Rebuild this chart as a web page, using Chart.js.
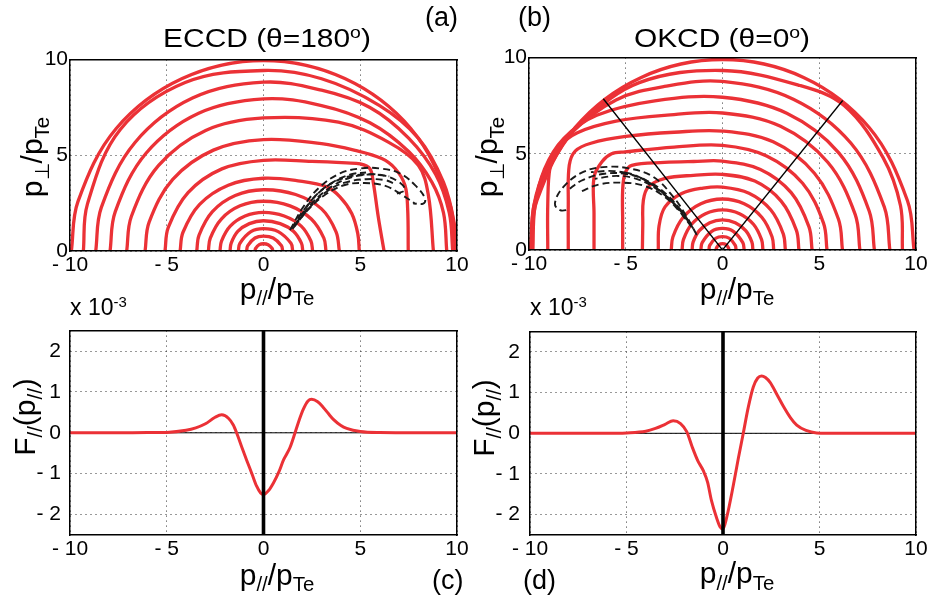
<!DOCTYPE html>
<html>
<head>
<meta charset="utf-8">
<script src="https://cdn.jsdelivr.net/npm/chart.js@4.4.1/dist/chart.umd.min.js"></script>
<style>
    html, body { margin: 0; padding: 0; background: #fff; }
    #page { position: relative; width: 937px; height: 604px; overflow: hidden; background: #fff; }
    canvas { position: absolute; }
    .t { position: absolute; font-family: 'Liberation Sans', Arial, sans-serif; color: #000; white-space: nowrap; line-height: 1; }
    .sub { font-size: 0.68em; position: relative; top: 0.32em; }
    .sup { font-size: 0.65em; position: relative; top: -0.5em; }
    .xl { font-size: 30px; transform: translate(-50%, -50%); }
    .yl { font-size: 30px; transform: translate(-50%, -50%) rotate(-90deg); }
    .ttl { font-size: 26px; top: 24.7px; transform: translateX(-50%) scaleX(1.15); }
    .tag { font-size: 27px; }
</style>
</head>
<body>
<div id="page">
    <canvas id="chartA" width="455" height="238" style="left:20px;top:45px"></canvas>
    <canvas id="chartB" width="455" height="239" style="left:479px;top:43px"></canvas>
    <canvas id="chartC" width="455" height="258" style="left:20px;top:309px"></canvas>
    <canvas id="chartD" width="454" height="258" style="left:480px;top:309px"></canvas>

    <div class="t ttl" style="left:267px">ECCD (θ=180<span class="sup">o</span>)</div>
    <div class="t ttl" style="left:722px">OKCD (θ=0<span class="sup">o</span>)</div>
    <div class="t tag" style="left:425px;top:4px">(a)</div>
    <div class="t tag" style="left:518px;top:4px">(b)</div>
    <div class="t tag" style="left:432px;top:567px">(c)</div>
    <div class="t tag" style="left:523px;top:567px">(d)</div>

    <div class="t yl" style="left:31.5px;top:156.5px">p<span class="sub">⊥</span>/p<span class="sub">Te</span></div>
    <div class="t yl" style="left:486.5px;top:157px">p<span class="sub">⊥</span>/p<span class="sub">Te</span></div>
    <div class="t yl" style="left:24.5px;top:417px">F<span class="sub">//</span>(p<span class="sub">//</span>)</div>
    <div class="t yl" style="left:484px;top:418px">F<span class="sub">//</span>(p<span class="sub">//</span>)</div>

    <div class="t xl" style="left:277px;top:288.5px">p<span class="sub">//</span>/p<span class="sub">Te</span></div>
    <div class="t xl" style="left:737px;top:288.5px">p<span class="sub">//</span>/p<span class="sub">Te</span></div>
    <div class="t xl" style="left:277px;top:574.8px">p<span class="sub">//</span>/p<span class="sub">Te</span></div>
    <div class="t xl" style="left:737px;top:573.2px">p<span class="sub">//</span>/p<span class="sub">Te</span></div>

    <div class="t" style="left:70px;top:295.5px;font-size:23px">x 10<span class="sup">-3</span></div>
    <div class="t" style="left:530px;top:295.5px;font-size:23px">x 10<span class="sup">-3</span></div>
</div>

<script>
// tick labels
const xTicks = [-10, -5, 0, 5, 10];
const yTicksTop = [0, 5, 10];
const yTicksBottom = [-2, -1, 0, 1, 2];

// (a) ECCD contours, [p//, pperp]
const contoursA = [
    [[-0.44,0],[-0.41,0.13],[-0.22,0.33],[0,0.38],[0.24,0.33],[0.45,0.13],[0.48,0]],
    [[-0.87,0],[-0.82,0.27],[-0.44,0.68],[0,0.78],[0.5,0.68],[0.93,0.27],[0.99,0]],
    [[-1.3,0],[-1.22,0.4],[-0.65,1.01],[0,1.17],[0.76,1.01],[1.42,0.4],[1.51,0]],
    [[-1.73,0],[-1.67,0.41],[-1.33,1.02],[-0.73,1.43],[0,1.58],[0.86,1.43],[1.56,1.02],[1.96,0.41],[2.03,0]],
    [[-2.25,0],[-2.17,0.52],[-1.72,1.3],[-0.95,1.83],[0,2.02],[1.07,1.83],[1.95,1.3],[2.45,0.52],[2.54,0]],
    [[-2.85,0],[-2.75,0.67],[-2.18,1.67],[-1.21,2.36],[0,2.6],[1.37,2.36],[2.47,1.67],[3.12,0.67],[3.23,0]],
    [[-3.45,0],[-3.33,0.83],[-2.64,2.06],[-1.46,2.9],[0,3.2],[1.66,2.95],[3.0,2.2],[3.75,1.0],[3.92,0]],
    [[-4.31,0],[-4.16,0.98],[-3.3,2.44],[-1.82,3.44],[0,3.8],[1.89,3.65],[3.27,3.35],[3.95,2.83],[4.56,1.96],[4.87,0.92],[4.95,0]],
    [[-5.09,0],[-4.92,1.23],[-3.9,3.05],[-2.15,4.29],[0,4.74],[2.5,4.68],[4.3,4.6],[5.0,4.55],[5.5,4.3],[5.67,3.6],[5.93,1.79],[6.23,0]],
    [[-6.12,0],[-5.91,1.51],[-4.69,3.74],[-2.59,5.27],[0,5.82],[3.0,5.61],[4.73,5.26],[6.11,4.83],[6.8,4.31],[7.31,3.44],[7.45,2.2],[7.48,0]],
    [[-7.07,0],[-6.83,1.8],[-5.42,4.47],[-2.99,6.3],[0,6.95],[3.87,6.73],[6.45,5.69],[8.0,4.48],[8.52,2.92],[8.78,0]],
    [[-7.93,0],[-7.66,2.06],[-6.07,5.11],[-3.35,7.2],[0,7.95],[3,7.6],[5.5,6.7],[7.5,5.2],[8.7,3.6],[9.3,2],[9.47,0]],
    [[-8.67,0],[-8.38,2.28],[-6.64,5.67],[-3.67,7.99],[0,8.82],[3,8.4],[5.5,7.5],[7.5,5.9],[8.9,4],[9.6,2],[9.78,0]],
    [[-9.31,0],[-9.1,2.45],[-7.4,6.35],[-4.05,8.8],[0,9.43],[3,9.0],[6,7.6],[8,5.9],[9.3,3.6],[9.85,1.5],[9.95,0]],
    [[-9.93,0],[-9.59,2.58],[-7.61,6.4],[-4.2,9.01],[0,9.95],[4.2,9.01],[7.61,6.4],[9.59,2.58],[9.93,0]]
];

const dashesA = [
    [[1.37,1.09],[2.06,2.31],[2.92,3.35],[3.95,4.05],[4.99,4.31],[6.02,4.31],[7.05,4.05],[7.92,3.35],[8.35,2.74],[8.26,2.48],[7.74,2.48]],
    [[1.45,1.2],[2.2,2.3],[3.1,3.25],[4.1,3.8],[5.2,4.0],[6.2,3.95],[7.0,3.6],[7.3,3.2],[6.9,3.0]],
    [[1.5,1.15],[2.3,2.15],[3.2,2.95],[4.2,3.45],[5.2,3.55],[6.3,3.4],[7.2,2.9],[7.8,2.5]],
    [[1.6,1.3],[2.5,2.4],[3.4,3.2],[4.3,3.6],[5.3,3.75],[6.3,3.7],[6.8,3.5]],
    [[1.7,1.5],[2.6,2.6],[3.5,3.35],[4.4,3.8],[5.5,4.0],[6.5,3.9]],
    [[1.9,1.8],[2.7,2.9],[3.6,3.6],[4.5,4.0],[5.3,4.1]]
];

// (b) OKCD contours
const contoursB = [
    [[-0.33,0],[-0.31,0.11],[-0.165,0.29],[0,0.33],[0.165,0.29],[0.31,0.11],[0.33,0]],
    [[-0.7,0],[-0.66,0.24],[-0.35,0.61],[0,0.7],[0.35,0.61],[0.66,0.24],[0.7,0]],
    [[-1.12,0],[-1.05,0.38],[-0.56,0.97],[0,1.12],[0.56,0.97],[1.05,0.38],[1.12,0]],
    [[-1.57,0],[-1.52,0.41],[-1.2,1.01],[-0.66,1.42],[0,1.57],[0.66,1.42],[1.2,1.01],[1.52,0.41],[1.57,0]],
    [[-2.09,0],[-2.02,0.54],[-1.6,1.34],[-0.88,1.89],[0,2.09],[0.88,1.89],[1.6,1.34],[2.02,0.54],[2.09,0]],
    [[-2.65,0],[-2.56,0.69],[-2.03,1.7],[-1.12,2.4],[0,2.65],[1.12,2.4],[2.03,1.7],[2.56,0.69],[2.65,0]],
    [[-3.32,0],[-3.28,1.25],[-2.97,2.24],[-2.11,2.94],[-1.0,3.22],[0,3.27],[1.37,2.95],[2.49,2.09],[3.14,0.84],[3.25,0]],
    [[-4.14,0],[-4.12,1.3],[-4.09,2.59],[-3.83,3.28],[-2.97,3.72],[-1.5,3.88],[0,3.93],[1.67,3.58],[3.03,2.54],[3.82,1.02],[3.95,0]],
    [[-5.16,0],[-5.16,1.5],[-5.16,3.1],[-5.04,3.97],[-4.69,4.4],[-3.0,4.55],[-1.5,4.6],[0,4.62],[1.96,4.19],[3.55,2.98],[4.47,1.2],[4.63,0]],
    [[-6.64,0],[-6.64,1.9],[-6.64,3.8],[-6.24,4.58],[-5.73,5.0],[-5.04,5.1],[-2.5,5.35],[0,5.44],[2.28,4.89],[4.14,3.47],[5.22,1.4],[5.4,0]],
    [[-7.97,0],[-7.97,2.4],[-7.92,4.4],[-7.6,5.15],[-6.8,5.55],[-5.0,5.9],[-2.5,6.12],[0,6.18],[2.62,5.62],[4.75,3.99],[5.99,1.61],[6.2,0]],
    [[-9.03,0],[-9.03,2.4],[-8.91,4.3],[-8.5,5.3],[-7.5,6.1],[-5.5,6.7],[-3,7.0],[0,7.12],[3.0,6.43],[5.44,4.56],[6.86,1.84],[7.1,0]],
    [[-9.8,0],[-9.7,2.2],[-9.2,4.2],[-8.2,5.8],[-6.5,7.0],[-3.5,7.75],[0,7.94],[3.32,7.11],[6.01,5.05],[7.58,2.03],[7.85,0]],
    [[-9.88,0],[-9.75,2.3],[-9.1,4.3],[-7.8,6.1],[-5.5,7.8],[-3,8.5],[0,8.76],[3.66,7.84],[6.63,5.56],[8.36,2.24],[8.65,0]],
    [[-9.92,0],[-9.7,2.5],[-8.6,4.9],[-7.3,6.6],[-4.3,8.7],[0,9.33],[4.0,8.55],[6.3,7.5],[8.3,4.8],[9.2,2.3],[9.3,0]],
    [[-9.93,0],[-9.59,2.57],[-7.61,6.37],[-4.2,8.97],[0,9.9],[4.19,8.97],[7.58,6.37],[9.56,2.56],[9.9,0]]
];

const dashesB = [
    [[-1.33,0.78],[-1.85,1.73],[-2.54,2.76],[-3.58,3.8],[-4.78,4.23],[-5.98,4.32],[-7.19,4.06],[-8.22,3.28],[-8.66,2.42],[-8.4,2.07],[-7.9,2.1]],
    [[-1.5,1.1],[-2.1,2.0],[-2.9,2.9],[-3.9,3.6],[-5.0,3.95],[-6.2,3.95],[-7.3,3.6],[-8.0,3.1]],
    [[-1.6,1.2],[-2.3,2.1],[-3.1,2.85],[-4.1,3.35],[-5.2,3.5],[-6.4,3.4],[-7.4,3.0]],
    [[-1.7,1.4],[-2.4,2.3],[-3.3,3.1],[-4.3,3.65],[-5.4,3.85],[-6.6,3.7]],
    [[-1.9,1.6],[-2.6,2.5],[-3.5,3.3],[-4.5,3.85],[-5.6,4.1],[-6.8,4.05]],
    [[-2.0,1.9],[-2.8,2.7],[-3.8,3.5],[-4.7,3.95],[-5.3,4.05]]
];

const raysB = [
    [[0,0],[-6.16,7.86]],
    [[0,0],[6.21,7.77]]
];

// (c) and (d) F// in units of 1e-3
const pParC = [-10,-8,-6,-5,-4,-3.5,-3,-2.5,-2.16,-1.8,-1.56,-1.39,-1.1,-0.87,-0.6,-0.36,-0.15,0,0.25,0.52,0.8,1.03,1.2,1.37,1.63,1.85,2.06,2.3,2.49,2.8,3.09,3.35,3.61,4.0,4.3,5.0,6.0,8,10];
const fParC = [0,0,0.005,0.01,0.06,0.12,0.22,0.38,0.44,0.35,0.19,0,-0.38,-0.67,-1.0,-1.3,-1.47,-1.51,-1.42,-1.22,-0.95,-0.67,-0.52,-0.36,0,0.32,0.58,0.78,0.82,0.76,0.62,0.47,0.33,0.18,0.11,0.03,0.005,0,0];
const pParD = [-10,-8,-6,-5,-4,-3.5,-3,-2.58,-2.2,-1.88,-1.6,-1.31,-1.02,-0.8,-0.6,-0.33,-0.15,0,0.2,0.53,0.8,1.05,1.3,1.57,1.8,2.0,2.2,2.44,2.8,3.12,3.5,3.82,4.3,4.85,6,8,10];
const fParD = [0,0,0,0.01,0.05,0.12,0.22,0.31,0.24,0.04,-0.33,-0.67,-0.92,-1.2,-1.65,-2.08,-2.3,-2.35,-2.05,-1.29,-0.6,0,0.62,1.14,1.36,1.41,1.37,1.25,0.95,0.67,0.38,0.2,0.07,0.01,0,0,0];

const zeroLine = [[-10,0],[10,0]];
const centreLine = [[0,-2.5],[0,2.5]];

document.addEventListener('DOMContentLoaded', function() {
    const RED = '#eb3136';
    const FONT = "'Liberation Sans', Arial, sans-serif";
    const fmt = v => v < 0 ? '- ' + (-v) : String(v);
    const pts = a => a.map(p => ({ x: p[0], y: p[1] }));
    const zip = (xs, ys) => xs.map((x, i) => ({ x: x, y: ys[i] }));

    const contour = c => ({ data: pts(c), showLine: true, borderColor: RED, borderWidth: 3.3, tension: 0.36, pointRadius: 0, order: 3 });
    const dashed = c => ({ data: pts(c), showLine: true, borderColor: '#1a1a1a', borderWidth: 1.9, borderDash: [7, 4], tension: 0.4, pointRadius: 0, order: 2 });
    const straight = (c, w, order) => ({ data: pts(c), showLine: true, borderColor: '#000', borderWidth: w, tension: 0, pointRadius: 0, order: order });

    // frame on the top and right sides
    function frame(pos) {
        return {
            type: 'linear', position: pos, min: 0, max: 1,
            grid: { display: false, drawTicks: false },
            ticks: { display: false },
            border: { display: true, color: '#000', width: 1.5, z: 1 }
        };
    }

    function panel(id, datasets, yTicks, ymin, ymax, ypad) {
        new Chart(document.getElementById(id), {
            type: 'scatter',
            data: { datasets: datasets },
            options: {
                responsive: false,
                animation: false,
                events: [],
                layout: { padding: { top: 14, right: 18, left: 0, bottom: 0 } },
                plugins: { legend: { display: false }, tooltip: { enabled: false } },
                scales: {
                    x: {
                        type: 'linear', min: -10, max: 10,
                        afterBuildTicks: s => { s.ticks = xTicks.map(v => ({ value: v })); },
                        afterFit: s => { s.height = 32; },
                        grid: { color: '#333', lineWidth: 1, drawTicks: false },
                        border: { display: true, color: '#000', width: 1.5, dash: [1, 4], z: 1 },
                        ticks: { color: '#000', padding: 2, maxRotation: 0, autoSkip: false, font: { family: FONT, size: 21 }, callback: fmt }
                    },
                    y: {
                        type: 'linear', min: ymin, max: ymax,
                        afterBuildTicks: s => { s.ticks = yTicks.map(v => ({ value: v })); },
                        afterFit: s => { s.width = 50; },
                        grid: { color: '#333', lineWidth: 1, drawTicks: false },
                        border: { display: true, color: '#000', width: 1.5, dash: [1, 4], z: 1 },
                        ticks: { color: '#000', padding: ypad, autoSkip: false, font: { family: FONT, size: 21 }, callback: fmt }
                    },
                    x2: frame('top'),
                    y2: frame('right')
                }
            }
        });
    }

    // (a)
    panel('chartA', contoursA.map(contour).concat(dashesA.map(dashed)), yTicksTop, 0, 10, 2);

    // (b)
    panel('chartB', contoursB.map(contour).concat(dashesB.map(dashed), raysB.map(r => straight(r, 1.3, 1))), yTicksTop, 0, 10, 2);

    // (c) va (d)
    const fLine = (xs, ys) => ({ data: zip(xs, ys), showLine: true, borderColor: RED, borderWidth: 3, cubicInterpolationMode: 'monotone', pointRadius: 0, order: 2 });
    panel('chartC', [straight(centreLine, 3.6, 1), fLine(pParC, fParC), straight(zeroLine, 1, 3)], yTicksBottom, -2.5, 2.5, 9);
    panel('chartD', [straight(centreLine, 3.6, 1), fLine(pParD, fParD), straight(zeroLine, 1, 3)], yTicksBottom, -2.5, 2.5, 10);
});
</script>
</body>
</html>
